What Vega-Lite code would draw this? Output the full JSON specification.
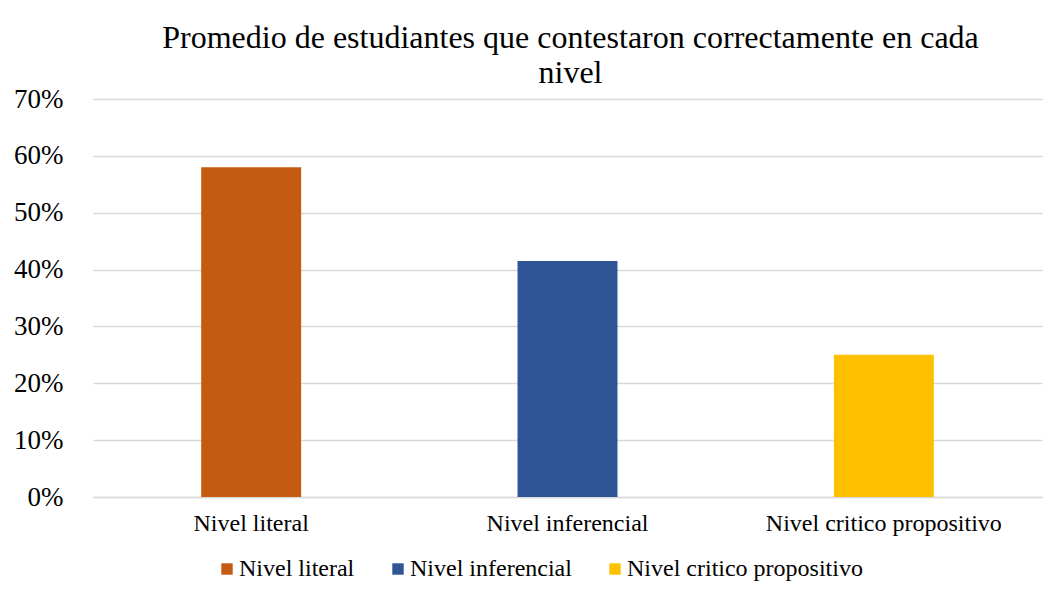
{
  "$schema": "https://vega.github.io/schema/vega-lite/v6.json",
  "autosize": {"type": "none"},
  "width": 949,
  "height": 398,
  "padding": {"left": 93, "top": 99, "right": 4, "bottom": 101},
  "background": "white",
  "config": {
    "view": {"stroke": null},
    "font": "Liberation Serif",
    "axis": {"labelFont": "Liberation Serif", "labelLimit": 400},
    "legend": {"labelFont": "Liberation Serif", "labelLimit": 400},
    "title": {"font": "Liberation Serif"}
  },
  "title": {
    "text": ["Promedio de estudiantes que contestaron correctamente en cada", "nivel"],
    "fontSize": 32,
    "fontWeight": "normal",
    "color": "#000000",
    "lineHeight": 35,
    "anchor": "middle",
    "offset": -5,
    "dx": 3
  },
  "data": {
    "values": [
      {"nivel": "Nivel literal", "valor": 0.58},
      {"nivel": "Nivel inferencial", "valor": 0.415},
      {"nivel": "Nivel critico propositivo", "valor": 0.25}
    ]
  },
  "mark": {"type": "bar"},
  "encoding": {
    "x": {
      "field": "nivel",
      "type": "nominal",
      "sort": null,
      "title": null,
      "scale": {"paddingInner": 0.684, "paddingOuter": 0.342},
      "axis": {
        "labelAngle": 0,
        "labelFontSize": 24,
        "labelColor": "#000000",
        "labelPadding": 14,
        "ticks": false,
        "domainColor": "#D9D9D9",
        "domainWidth": 1.5
      }
    },
    "y": {
      "field": "valor",
      "type": "quantitative",
      "title": null,
      "scale": {"domain": [0, 0.7]},
      "axis": {
        "values": [0, 0.1, 0.2, 0.3, 0.4, 0.5, 0.6, 0.7],
        "format": ".0%",
        "labelFontSize": 27,
        "labelColor": "#000000",
        "labelPadding": 30,
        "ticks": false,
        "domain": false,
        "gridColor": "#D9D9D9",
        "gridWidth": 1.5
      }
    },
    "color": {
      "field": "nivel",
      "type": "nominal",
      "sort": null,
      "scale": {
        "domain": ["Nivel literal", "Nivel inferencial", "Nivel critico propositivo"],
        "range": ["#C55A11", "#2F5597", "#FFC000"]
      },
      "legend": {
        "title": null,
        "orient": "none",
        "direction": "horizontal",
        "legendX": 122,
        "legendY": 458,
        "symbolType": "square",
        "symbolSize": 130,
        "symbolStrokeWidth": 0,
        "labelFontSize": 24,
        "labelColor": "#000000",
        "labelOffset": 0,
        "columnPadding": 31
      }
    }
  }
}
